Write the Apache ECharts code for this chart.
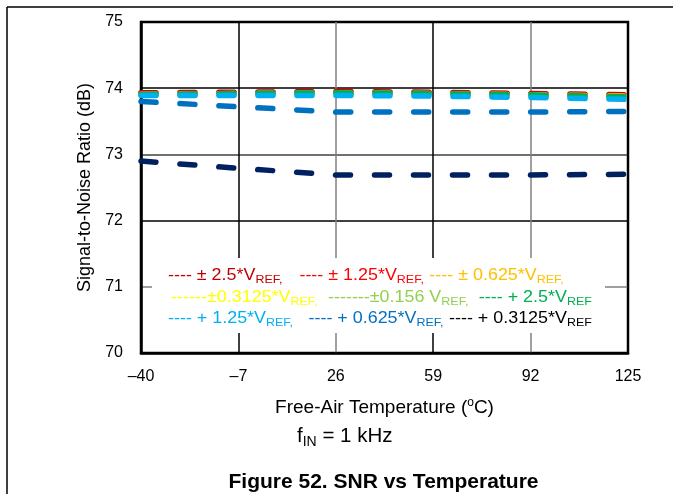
<!DOCTYPE html>
<html>
<head>
<meta charset="utf-8">
<script src="https://cdn.jsdelivr.net/npm/echarts@6/dist/echarts.min.js"></script>
<style>
  html, body { margin: 0; padding: 0; background: #fff; }
  #chart { width: 673px; height: 494px; }
</style>
</head>
<body>
<div id="chart"></div>
<script>
// temperature points (°C)
var temps = ['–40', '–7', '26', '59', '92', '125']
var yTicks = [70, 71, 72, 73, 74, 75]

// SNR (dB) per input range
var snrPm25 = [73.93, 73.94, 73.95, 73.94, 73.92, 73.90]
var snrPm125 = [73.92, 73.93, 73.94, 73.93, 73.91, 73.89]
var snrPm0625 = [73.91, 73.92, 73.93, 73.92, 73.90, 73.88]
var snrPm03125 = [73.90, 73.91, 73.92, 73.91, 73.89, 73.87]
var snrPm0156 = [73.90, 73.91, 73.92, 73.91, 73.89, 73.87]
var snrP25 = [73.91, 73.92, 73.93, 73.92, 73.90, 73.87]
var snrP125 = [73.89, 73.89, 73.89, 73.88, 73.86, 73.83]
var snrP0625 = [73.80, 73.72, 73.64, 73.64, 73.64, 73.65]
var snrP03125 = [72.90, 72.79, 72.69, 72.69, 72.69, 72.70]

var seriesList = [
  { name: '±2.5', color: '#c00000', data: snrPm25 },
  { name: '±1.25', color: '#ff0000', data: snrPm125 },
  { name: '±0.625', color: '#ffc000', data: snrPm0625 },
  { name: '±0.3125', color: '#ffff00', data: snrPm03125 },
  { name: '±0.156', color: '#92d050', data: snrPm0156 },
  { name: '+2.5', color: '#00b050', data: snrP25 },
  { name: '+1.25', color: '#00b0f0', data: snrP125 },
  { name: '+0.625', color: '#0070c0', data: snrP0625 },
  { name: '+0.3125', color: '#002060', data: snrP03125 }
]

var chart = echarts.init(document.getElementById('chart'))
var font = 'Liberation Sans, Arial, sans-serif'

function sub(color, w) {
  return { fontSize: 11.5, fill: color, fontFamily: font, padding: [9, 0, 0, 0], width: w }
}
function main(color) {
  return { fontSize: 16.5, fill: color, fontFamily: font }
}

var legendText =
  '{a|---- ± 2.5*V}{as|REF,} {b|---- ± 1.25*V}{bs|REF,}{c|---- ± 0.625*V}{cs|REF,}\n' +
  '{d|------±0.3125*V}{ds|REF,} {e|-------±0.156 V}{es|REF,} {f|---- + 2.5*V}{fs|REF}\n' +
  '{g|---- + 1.25*V}{gs|REF,}  {h|---- + 0.625*V}{hs|REF,}{i|---- + 0.3125*V}{is|REF}'

var legendRich = {
  a: main('#c00000'), as: sub('#c00000', 36),
  b: main('#ff0000'), bs: sub('#ff0000', 30),
  c: main('#ffc000'), cs: sub('#ffc000', 28),
  d: Object.assign(main('#ffff00'), { padding: [0, 0, 0, 3] }), ds: sub('#ffff00', 30),
  e: main('#92d050'), es: sub('#92d050', 30),
  f: main('#00b050'), fs: sub('#00b050', 26),
  g: main('#00b0f0'), gs: sub('#00b0f0', 30),
  h: main('#0070c0'), hs: sub('#0070c0', 30),
  i: main('#000000'), is: sub('#000000', 26)
}

var option = {
  animation: false,
  backgroundColor: '#fff',
  grid: { left: 141, top: 22, right: 45, bottom: 141, show: true, borderColor: '#000', borderWidth: 2.5 },
  xAxis: {
    type: 'category',
    data: temps,
    boundaryGap: false,
    name: 'Free-Air Temperature ({sup|o}C)',
    nameLocation: 'middle',
    nameGap: 44,
    nameTextStyle: {
      fontSize: 19, color: '#000', fontFamily: font,
      rich: { sup: { fontSize: 12, color: '#000', fontFamily: font, padding: [0, 0, 9, 0] } }
    },
    axisLine: { lineStyle: { color: '#000', width: 2.5 } },
    axisTick: { show: false },
    axisLabel: { fontSize: 16, color: '#000', fontFamily: font, margin: 16 },
    splitLine: { show: true, lineStyle: { color: ['#000', '#000', '#808080', '#000', '#808080', '#000'], width: 1.5 } }
  },
  yAxis: {
    type: 'value',
    min: yTicks[0],
    max: yTicks[yTicks.length - 1],
    interval: 1,
    name: 'Signal-to-Noise Ratio (dB)',
    nameLocation: 'middle',
    nameGap: 45,
    nameTextStyle: { fontSize: 18, color: '#000', fontFamily: font },
    axisLine: { show: true, lineStyle: { color: '#000', width: 2.5 } },
    axisTick: { show: false },
    axisLabel: { fontSize: 16, color: '#000', fontFamily: font, margin: 18 },
    splitLine: { show: true, lineStyle: { color: ['#000', '#808080', '#000', '#404040', '#000', '#000'], width: 1.5 } }
  },
  series: seriesList.map(function (s) {
    return {
      name: s.name,
      type: 'line',
      data: s.data,
      symbol: 'none',
      z: 3,
      lineStyle: { color: s.color, width: 5.5, type: [15, 24], cap: 'round' }
    }
  }),
  graphic: [
    { type: 'line', shape: { x1: 7, y1: 7, x2: 673, y2: 7 }, style: { stroke: '#000', lineWidth: 1.5 } },
    { type: 'line', shape: { x1: 7, y1: 7, x2: 7, y2: 494 }, style: { stroke: '#000', lineWidth: 1.5 } },
    { type: 'rect', shape: { x: 152, y: 258, width: 453, height: 75 }, style: { fill: '#fff' }, z: 10 },
    {
      type: 'text', x: 168, y: 265, z: 11, scaleX: 1.085,
      style: { text: legendText, rich: legendRich, lineHeight: 21.5, font: '16.5px ' + font }
    },
    {
      type: 'text', x: 297, y: 424, z: 11,
      style: {
        text: 'f{s|IN} = 1 kHz',
        font: '20.5px ' + font, fill: '#000',
        rich: { s: { fontSize: 14, fill: '#000', fontFamily: font, padding: [11, 0, 0, 0] } }
      }
    },
    {
      type: 'text', x: 383.5, y: 472, z: 11,
      style: { text: 'Figure 52. SNR vs Temperature', font: 'bold 21px ' + font, fill: '#000', align: 'center' }
    }
  ]
}
chart.setOption(option)
</script>
</body>
</html>
